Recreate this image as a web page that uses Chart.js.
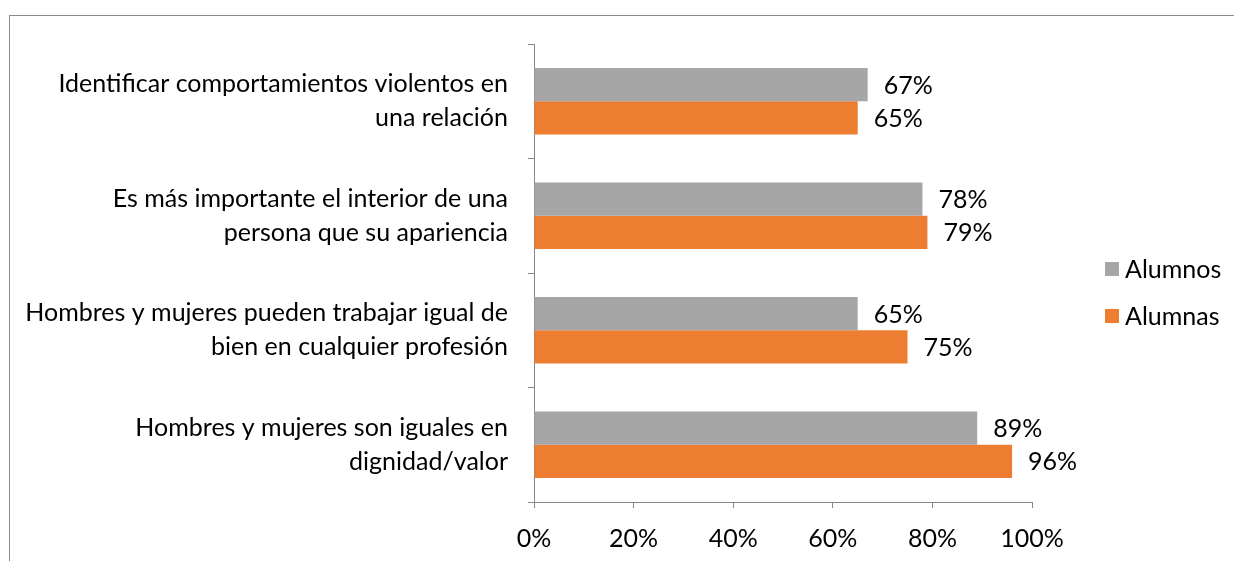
<!DOCTYPE html>
<html>
<head>
<meta charset="utf-8">
<script src="https://cdn.jsdelivr.net/npm/chart.js@4"></script>
<style>
  html, body { margin: 0; padding: 0; background: #fff; }
  #wrap { position: relative; width: 1234px; height: 561px; overflow: hidden; }
  #frame { position: absolute; left: 9px; top: 15px; right: -2px; bottom: -2px; border-left: 1px solid #8c8c8c; border-top: 1px solid #8c8c8c; }
  canvas { position: absolute; left: 0; top: 0; }
</style>
</head>
<body>
<div id="wrap">
  <div id="frame"></div>
  <canvas id="c" width="1234" height="561"></canvas>
</div>
<script>
const categories = [
  ['Identificar comportamientos violentos en', 'una relación'],
  ['Es más importante el interior de una', 'persona que su apariencia'],
  ['Hombres y mujeres pueden trabajar igual de', 'bien en cualquier profesión'],
  ['Hombres y mujeres son iguales en', 'dignidad/valor']
]
const alumnos = [67, 78, 65, 89]
const alumnas = [65, 79, 75, 96]
const xTicks = [0, 20, 40, 60, 80, 100]

const FONT = 'Lato, "Open Sans", sans-serif'
const FSIZE = 25
const AXIS = '#868686'

const valueLabels = {
  id: 'valueLabels',
  afterDatasetsDraw(chart) {
    const ctx = chart.ctx
    ctx.save()
    ctx.font = `${FSIZE}px ${FONT}`
    ctx.fillStyle = '#000'
    ctx.textAlign = 'left'
    ctx.textBaseline = 'middle'
    chart.data.datasets.forEach((ds, i) => {
      chart.getDatasetMeta(i).data.forEach((bar, j) => {
        ctx.fillText(ds.data[j] + '%', bar.x + 16, bar.y + 1)
      })
    })
    ctx.restore()
  }
}

const sideLegend = {
  id: 'sideLegend',
  afterDraw(chart) {
    const ctx = chart.ctx
    const a = chart.chartArea
    const x = a.right + 73
    let y = (a.top + a.bottom) / 2 - 4
    ctx.save()
    ctx.font = `${FSIZE}px ${FONT}`
    ctx.textBaseline = 'middle'
    ctx.textAlign = 'left'
    chart.data.datasets.forEach((ds) => {
      ctx.fillStyle = ds.backgroundColor
      ctx.fillRect(x, y - 7, 14, 14)
      ctx.fillStyle = '#000'
      ctx.fillText(ds.label, x + 20, y + 1)
      y += 47
    })
    ctx.restore()
  }
}

new Chart(document.getElementById('c'), {
  type: 'bar',
  data: {
    labels: categories,
    datasets: [
      { label: 'Alumnos', data: alumnos, backgroundColor: '#a6a6a6' },
      { label: 'Alumnas', data: alumnas, backgroundColor: '#ed7d31' }
    ]
  },
  options: {
    indexAxis: 'y',
    responsive: false,
    animation: false,
    devicePixelRatio: 1,
    layout: { padding: { left: 0, right: 202, top: 44, bottom: 0 } },
    datasets: { bar: { barPercentage: 1, categoryPercentage: 0.58 } },
    plugins: { legend: { display: false }, tooltip: { enabled: false } },
    scales: {
      x: {
        min: 0, max: 100,
        afterBuildTicks: (s) => { s.ticks = xTicks.map(v => ({ value: v })) },
        afterFit: (s) => { s.height = 59 },
        border: { color: AXIS, width: 1 },
        grid: { drawOnChartArea: false, drawTicks: true, tickLength: 6, color: AXIS },
        ticks: { color: '#000', padding: 16, font: { family: FONT, size: FSIZE }, callback: (v) => v + '%', maxRotation: 0 }
      },
      y: {
        afterFit: (s) => { s.width = 534; s.paddingTop = 0; s.paddingBottom = 0 },
        border: { color: AXIS, width: 1 },
        grid: { drawOnChartArea: false, drawTicks: true, tickLength: 6, color: AXIS, offset: true },
        ticks: { color: '#000', padding: 20, font: { family: FONT, size: FSIZE, lineHeight: 1.36 } }
      }
    }
  },
  plugins: [valueLabels, sideLegend]
})
</script>
</body>
</html>
